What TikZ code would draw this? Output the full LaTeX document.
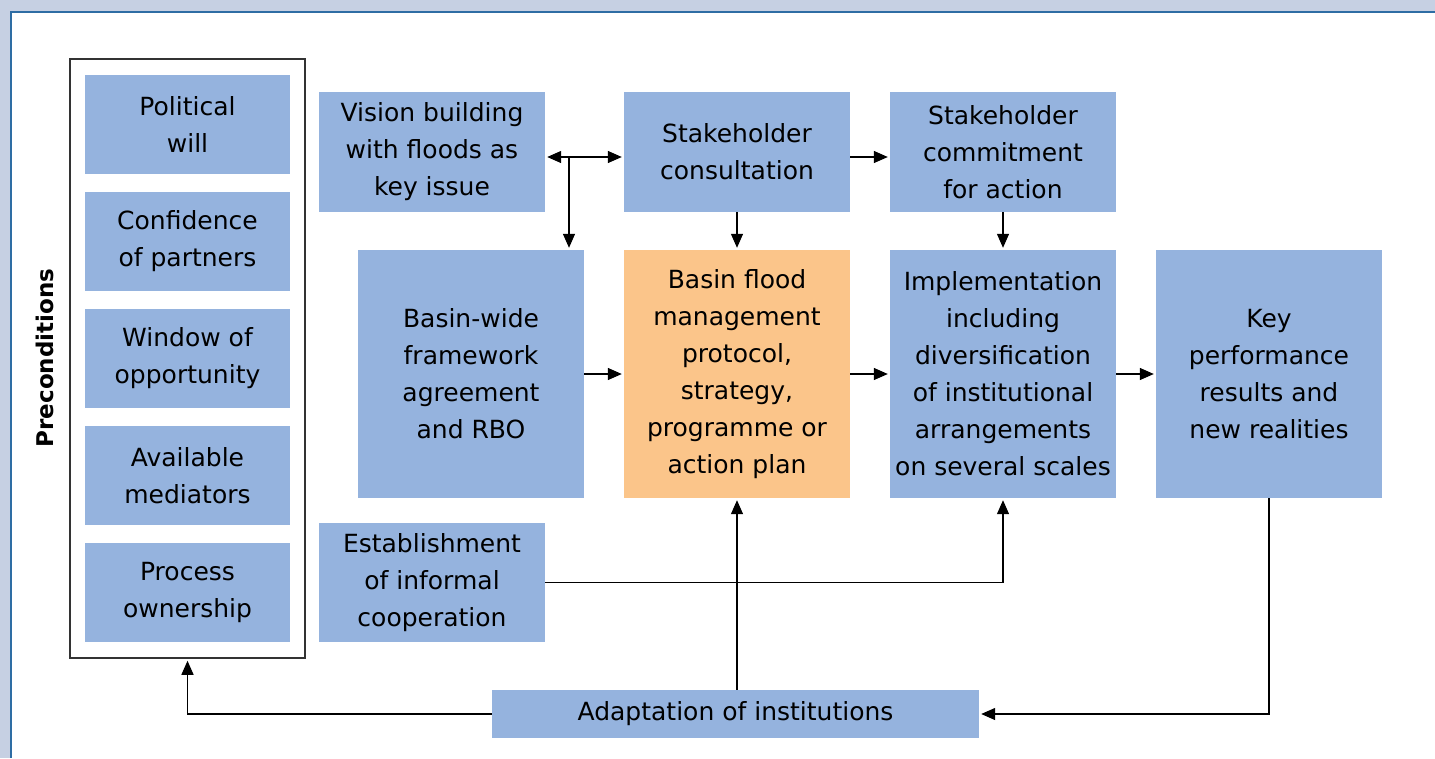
\documentclass[tikz,border=0pt]{standalone}
\usepackage{fontspec}
\setmainfont{DejaVu Sans}
\usetikzlibrary{arrows.meta}
\definecolor{boxblue}{RGB}{149,179,222}
\definecolor{boxorange}{RGB}{251,197,138}
\definecolor{bgblue}{RGB}{198,208,227}
\definecolor{frameblue}{RGB}{46,109,164}
\begin{document}
\begin{tikzpicture}[x=1pt,y=-1pt,
  box/.style={fill=boxblue, inner sep=0pt, align=center, font=\fontsize{25}{37}\selectfont},
  pbox/.style={box, minimum width=205pt, minimum height=99pt},
  mbox/.style={box, minimum width=226pt},
  tip/.tip={Triangle[length=14pt,width=12pt]},
  arr/.style={-tip, line width=1.3pt, shorten >=2pt},
  darr/.style={tip-tip, line width=1.3pt, shorten >=2pt, shorten <=2pt}
]
\useasboundingbox (0,0) rectangle (1435,758);
\fill[bgblue] (0,0) rectangle (1435,758);
\fill[white] (11,12) rectangle (1435,758);
\draw[frameblue, line width=2pt] (11,758) -- (11,12) -- (1435,12);

\node[draw=black!80, line width=1.5pt, minimum width=235pt, minimum height=599pt, inner sep=0pt] (pre) at (187.5,358.5) {};
\node[rotate=90, font=\fontsize{23}{28}\selectfont\bfseries] (pretitle) at (45,358) {Preconditions};

\node[pbox] (pol) at (187.5,124) {Political\\will};
\node[pbox] (conf) at (187.5,241.5) {Confidence\\of partners};
\node[pbox] (win) at (187.5,358.5) {Window of\\opportunity};
\node[pbox] (avail) at (187.5,475.5) {Available\\mediators};
\node[pbox] (proc) at (187.5,592.5) {Process\\ownership};

\node[mbox, minimum height=120pt] (vision) at (432,152) {Vision building\\with floods as\\key issue};
\node[mbox, minimum height=120pt] (cons) at (737,152) {Stakeholder\\consultation};
\node[mbox, minimum height=120pt] (commit) at (1003,152) {Stakeholder\\commitment\\for action};

\node[mbox, minimum height=248pt] (bw) at (471,374) {Basin-wide\\framework\\agreement\\and RBO};
\node[mbox, minimum height=248pt, fill=boxorange] (bf) at (737,374) {Basin flood\\management\\protocol,\\strategy,\\programme or\\action plan};
\node[mbox, minimum height=248pt] (impl) at (1003,374) {Implementation\\including\\diversification\\of institutional\\arrangements\\on several scales};
\node[mbox, minimum height=248pt] (key) at (1269,374) {Key\\performance\\results and\\new realities};

\node[mbox, minimum height=119pt] (est) at (432,582.5) {Establishment\\of informal\\cooperation};
\node[box, minimum width=487pt, minimum height=48pt] (adapt) at (735.5,714) {Adaptation of institutions};

\coordinate (j) at (569,157);
\draw[darr] (vision.east|-j) -- (cons.west|-j);
\draw[arr] (j) -- (j|-bw.north);
\draw[arr] (cons.east|-j) -- (commit.west|-j);
\draw[arr] (cons.south) -- (bf.north);
\draw[arr] (commit.south) -- (impl.north);
\draw[arr] (bw.east) -- (bf.west);
\draw[arr] (bf.east) -- (impl.west);
\draw[arr] (impl.east) -- (key.west);
\draw[arr] (est.east) -- (est.east -| impl.south) -- (impl.south);
\draw[arr] (adapt.north -| bf.south) -- (bf.south);
\draw[arr] (key.south) -- (key.south |- adapt.east) -- (adapt.east);
\draw[arr] (adapt.west) -- (adapt.west -| pre.south) -- (pre.south);
\end{tikzpicture}
\end{document}
